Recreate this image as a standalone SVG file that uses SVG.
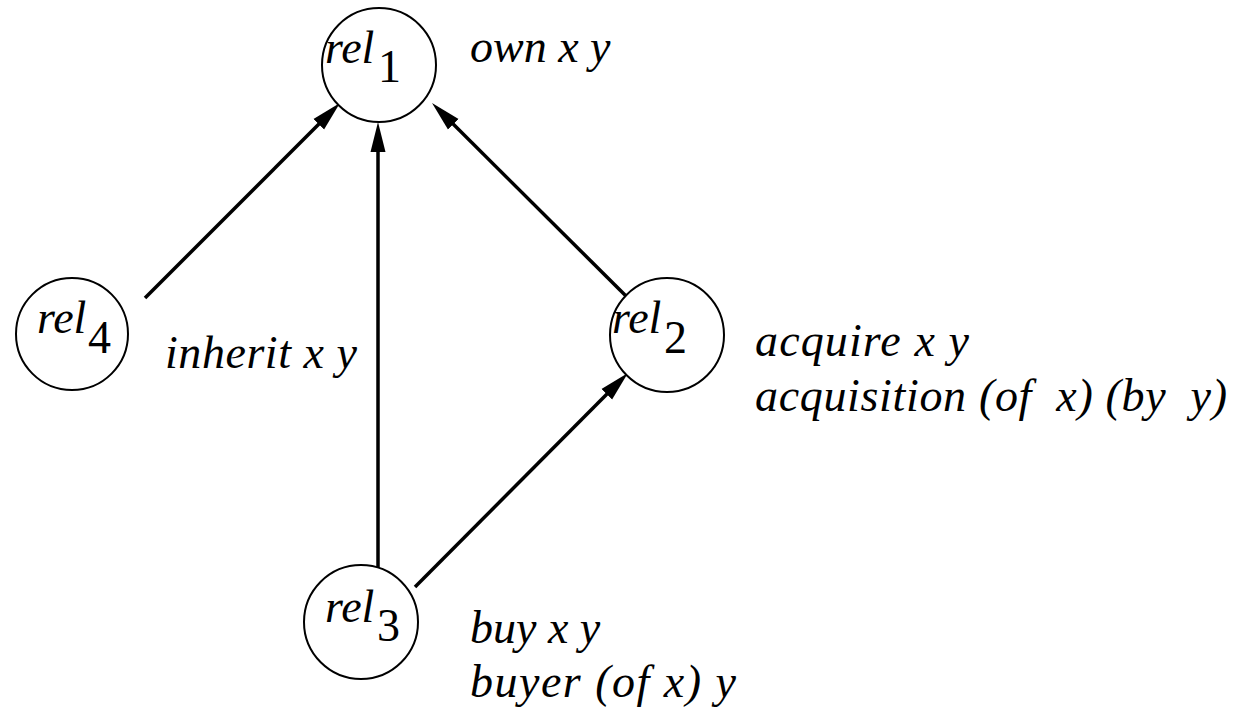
<svg xmlns="http://www.w3.org/2000/svg" width="1236" height="707" viewBox="0 0 1236 707">
<style>
  .node circle { fill: #fff; stroke: #000; stroke-width: 2; }
  text { font-family: 'Liberation Serif', 'Times New Roman', serif; font-size: 46px; fill: #000; white-space: pre; }
  .it { font-style: italic; }
  .sub { font-style: normal; }
  .edge { stroke: #000; stroke-width: 3.5; fill: none; marker-end: url(#arr); }
</style>
<defs>
  <marker id="arr" viewBox="0 0 30 16" refX="20" refY="8" markerWidth="30" markerHeight="16" markerUnits="userSpaceOnUse" orient="auto">
    <path d="M0,0.5 L30,8 L0,15.5 z" fill="#000"/>
  </marker>
</defs>
<rect width="1236" height="707" fill="#fff"/>
<g id="connectors">
  <line class="edge" x1="145" y1="298" x2="332.9" y2="110.1"/>
  <line class="edge" x1="378" y1="567" x2="378" y2="132"/>
  <line class="edge" x1="627" y1="297" x2="439.1" y2="110.1"/>
  <line class="edge" x1="415" y1="587" x2="620.9" y2="380.1"/>
</g>
<g id="rel1" class="node">
  <circle cx="379" cy="65" r="57"/>
  <text class="it" x="325" y="63">rel</text>
  <text class="sub" x="378" y="82">1</text>
</g>
<g id="rel4" class="node">
  <circle cx="72" cy="334" r="56"/>
  <text class="it" x="37" y="333">rel</text>
  <text class="sub" x="88" y="353">4</text>
</g>
<g id="rel2" class="node">
  <circle cx="667" cy="335" r="57"/>
  <text class="it" x="612" y="333">rel</text>
  <text class="sub" x="664" y="353">2</text>
</g>
<g id="rel3" class="node">
  <circle cx="361" cy="622" r="57"/>
  <text class="it" x="325" y="622">rel</text>
  <text class="sub" x="377" y="641">3</text>
</g>
<g id="labels">
  <text class="it" x="470" y="62">own x y</text>
  <text class="it" x="165" y="368" textLength="192" lengthAdjust="spacing">inherit x y</text>
  <text class="it" x="755" y="356" textLength="214" lengthAdjust="spacing">acquire x y</text>
  <text class="it" x="755" y="411" textLength="472" lengthAdjust="spacing">acquisition (of  x) (by  y)</text>
  <text class="it" x="470" y="643">buy x y</text>
  <text class="it" x="470" y="697" textLength="266" lengthAdjust="spacing">buyer (of x) y</text>
</g>
</svg>
